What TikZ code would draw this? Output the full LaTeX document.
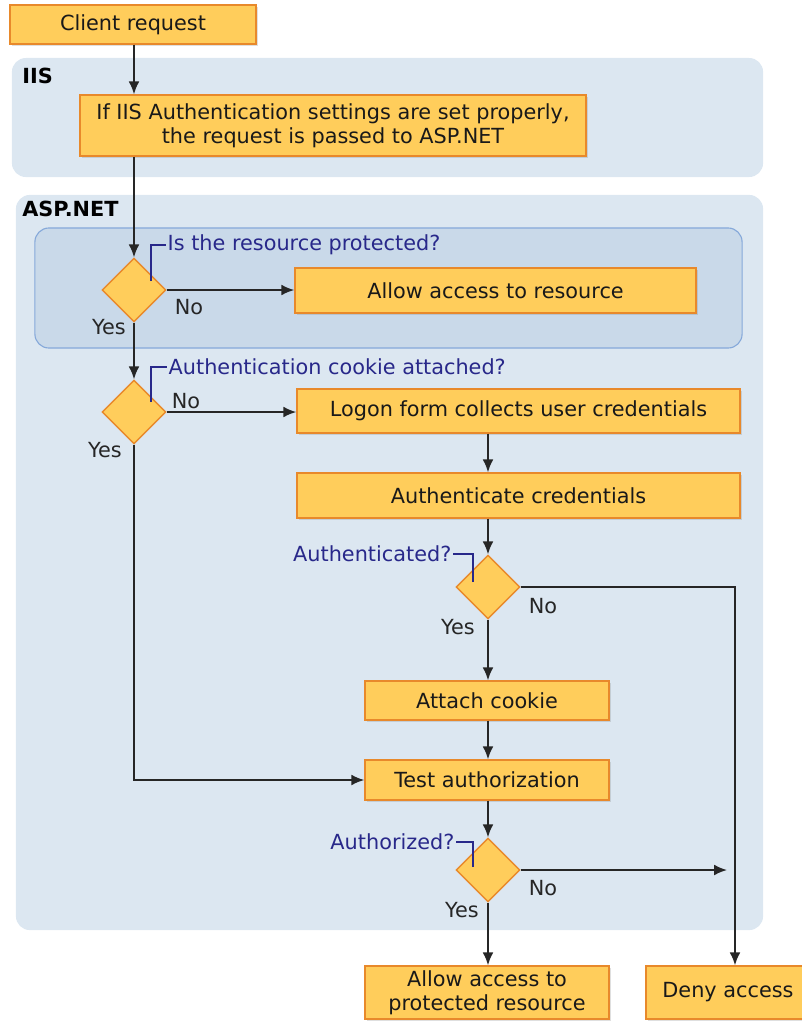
\documentclass[tikz,border=0pt]{standalone}
\usepackage{fontspec}
\setmainfont{DejaVu Sans}
\usepackage{xcolor}
\usetikzlibrary{shapes.geometric, arrows.meta, positioning, calc, shadows}

\definecolor{boxfill}{HTML}{FFCD5B}
\definecolor{boxline}{HTML}{E8892B}
\definecolor{panelfill}{HTML}{DCE7F1}
\definecolor{innerfill}{HTML}{C9D9E9}
\definecolor{innerline}{HTML}{86A9DA}
\definecolor{asknavy}{HTML}{28288A}

\newcommand{\chartfont}{\fontsize{14.8}{17}\selectfont}

\tikzstyle{BOX}    = [draw=boxline,      % orange border
                      line width=1pt,
                      fill=boxfill,      % yellow fill
                      rectangle,
                      align=center,
                      inner sep=0pt,
                      text=black!90,
                      drop shadow={shadow xshift=1.2pt, shadow yshift=-1.2pt, opacity=0.25}]
\tikzstyle{DECIDE} = [draw=boxline, line width=1pt, fill=boxfill,
                      diamond,           % decision shape
                      minimum width=1.6cm, minimum height=1.6cm, inner sep=0pt]
\tikzstyle{PANEL}  = [fill=panelfill, rectangle, rounded corners=0.35cm, inner sep=0pt]
\tikzstyle{INNER}  = [fill=innerfill, draw=innerline, line width=0.8pt,
                      rectangle, rounded corners=0.35cm, inner sep=0pt]
\tikzstyle{TITLE}  = [font=\chartfont\bfseries, anchor=west, inner sep=0pt]
\tikzstyle{ASK}    = [text=asknavy, inner sep=1pt]
\tikzstyle{CALLOUT}= [draw=asknavy, line width=1.1pt]
\tikzstyle{ANSWER} = [inner sep=0pt, text=black!85]
\tikzstyle{ARROW}  = [line width=1.3pt, draw=black!85, -{Latex[length=3.2mm, width=2.7mm]}]

\begin{document}
\begin{tikzpicture}[x=0.025cm, y=-0.025cm, font=\chartfont]
		\useasboundingbox (0,0) rectangle (802,1021);

		% Background panels
		\node(iispanel)[PANEL, minimum width=18.775cm, minimum height=2.975cm] at (387.5,117.5) {};
		\node(asppanel)[PANEL, minimum width=18.675cm, minimum height=18.375cm] at (389.5,562.5) {};
		\node(inner)[INNER, minimum width=17.675cm, minimum height=3cm] at (388.5,288) {};
		\node(iislbl)[TITLE] at (22,76) {IIS};
		\node(asplbl)[TITLE] at (22,209) {ASP.NET};

		% Steps
		\node(req)[BOX, minimum width=6.15cm, minimum height=0.975cm] at (133,24.5) {Client request};
		\node(iisbox)[BOX, minimum width=12.65cm, minimum height=1.525cm] at (333,125.5)
		{
			If IIS Authentication settings are set properly,\\
			the request is passed to ASP.NET
		};
		\node(allow)[BOX, minimum width=10.025cm, minimum height=1.125cm] at (495.5,290.5) {Allow access to resource};
		\node(logon)[BOX, minimum width=11.075cm, minimum height=1.1cm] at (518.5,411) {Logon form collects user credentials};
		\node(auth)[BOX, minimum width=11.075cm, minimum height=1.125cm] at (518.5,495.5) {Authenticate credentials};
		\node(attach)[BOX, minimum width=6.1cm, minimum height=0.975cm] at (487,700.5) {Attach cookie};
		\node(test)[BOX, minimum width=6.1cm, minimum height=1cm] at (487,780) {Test authorization};
		\node(prot)[BOX, minimum width=6.1cm, minimum height=1.325cm] at (487,992.5)
		{
			Allow access to\\
			protected resource
		};
		\node(deny)[BOX, minimum width=4.1cm, minimum height=1.325cm] at (728,992.5) {Deny access};

		% Decisions
		\node(d1)[DECIDE] at (134,290) {};
		\node(d2)[DECIDE] at (134,412) {};
		\node(d3)[DECIDE] at (488,587) {};
		\node(d4)[DECIDE] at (488,870) {};

		% Questions with their callout hooks
		\node(q1)[ASK, anchor=west] at (166,245) {Is the resource protected?};
		\node(q2)[ASK, anchor=west] at (167,367) {Authentication cookie attached?};
		\node(q3)[ASK, anchor=east] at (453,554) {Authenticated?};
		\node(q4)[ASK, anchor=east] at (456,842) {Authorized?};
		\draw[CALLOUT] (151,281) |- (q1.west);
		\draw[CALLOUT] (151,402) |- (q2.west);
		\draw[CALLOUT] (473,582) |- (q3.east);
		\draw[CALLOUT] (473,867) |- (q4.east);

		% Yes / No
		\node(no1)[ANSWER] at (189,307) {No};
		\node(yes1)[ANSWER] at (109,327) {Yes};
		\node(no2)[ANSWER] at (186,401) {No};
		\node(yes2)[ANSWER] at (105,450) {Yes};
		\node(no3)[ANSWER] at (543,606) {No};
		\node(yes3)[ANSWER] at (458,627) {Yes};
		\node(no4)[ANSWER] at (543,888) {No};
		\node(yes4)[ANSWER] at (462,910) {Yes};

		% Column going down on the left
		\draw[ARROW] (d1 |- req.south) -- (d1 |- iisbox.north);
		\draw[ARROW] (d1 |- iisbox.south) -- (d1.north);
		\draw[ARROW] (d1.east) -- (d1.east -| allow.west);
		\draw[ARROW] (d1.south) -- (d2.north);
		\draw[ARROW] (d2.east) -- (d2.east -| logon.west);
		\draw[ARROW] (d2.south) |- (test.west);
		% Logon branch
		\draw[ARROW] (d3 |- logon.south) -- (d3 |- auth.north);
		\draw[ARROW] (d3 |- auth.south) -- (d3.north);
		\draw[ARROW] (d3.south) -- (d3 |- attach.north);
		\draw[ARROW] (d3 |- attach.south) -- (d3 |- test.north);
		\draw[ARROW] (d3 |- test.south) -- (d4.north);
		\draw[ARROW] (d4.south) -- (d4 |- prot.north);
		% Refusals
		\coordinate (nocol) at (735,0);
		\draw[ARROW] (d3.east) -| (nocol |- deny.north);
		\draw[ARROW] (d4.east) -- ($(nocol |- d4.east)+(-8,0)$);

\end{tikzpicture}
\end{document}
